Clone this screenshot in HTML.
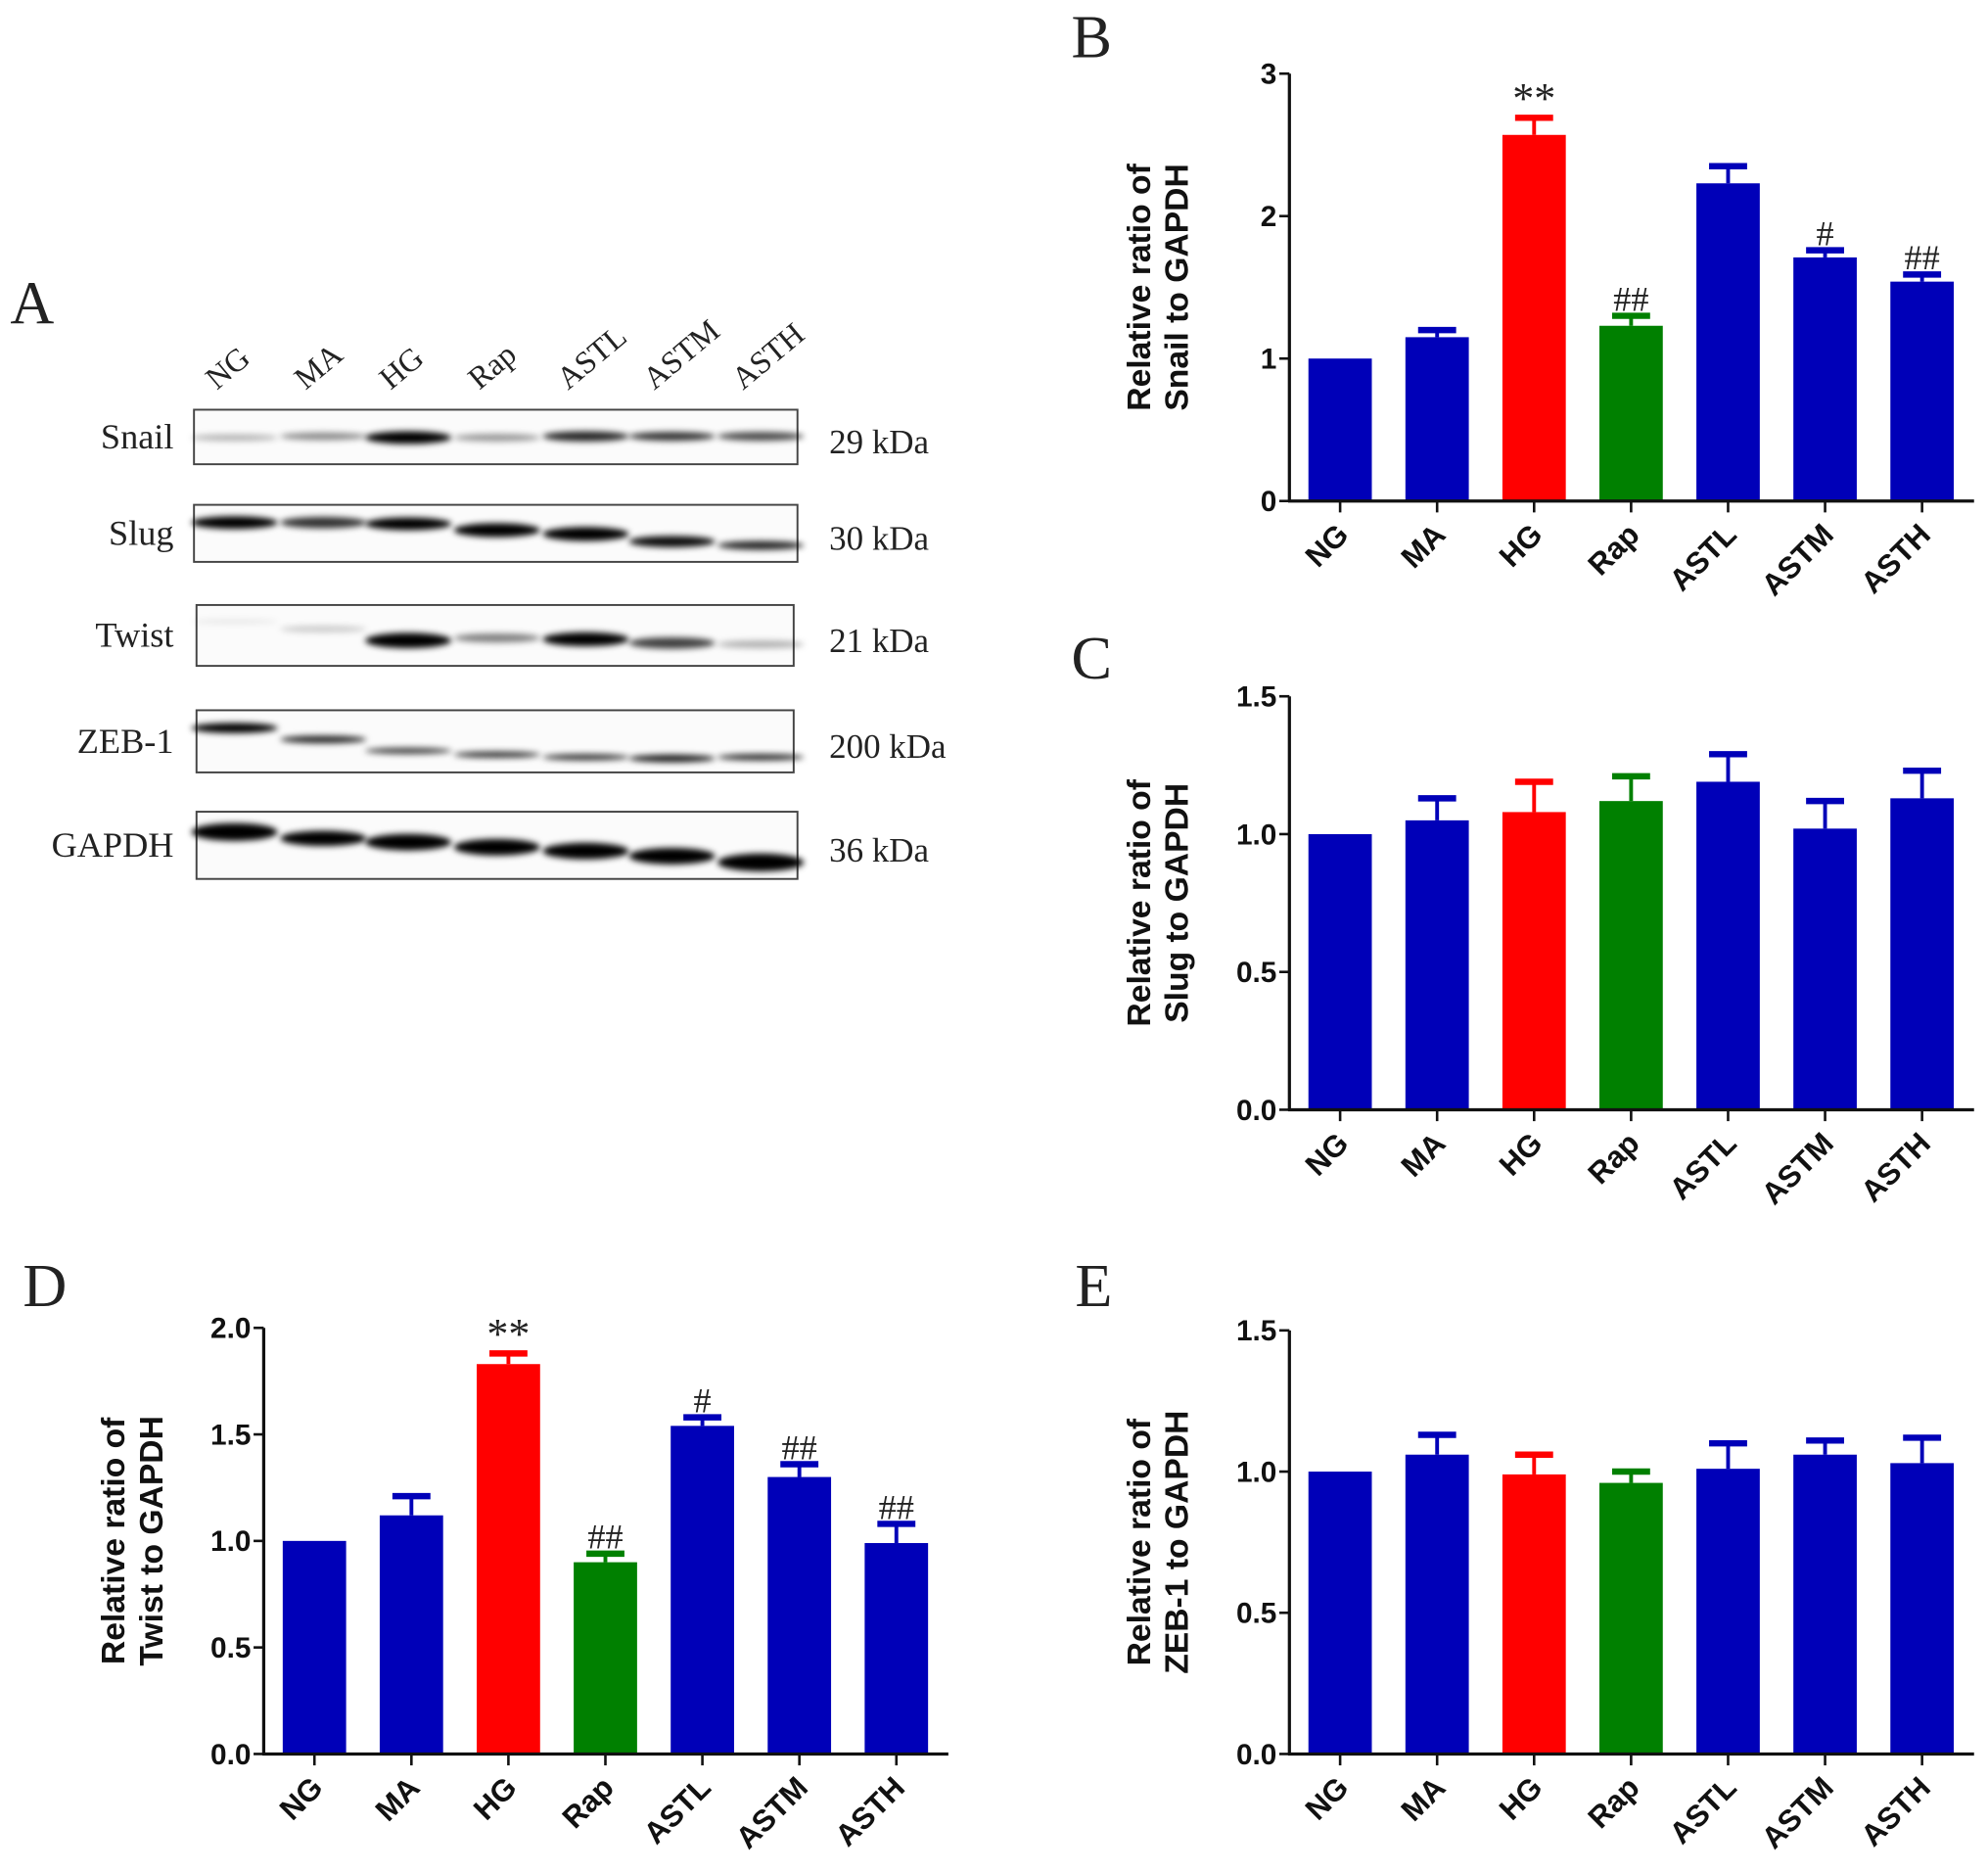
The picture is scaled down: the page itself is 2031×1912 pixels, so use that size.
<!DOCTYPE html>
<html><head><meta charset="utf-8"><style>
html,body{margin:0;padding:0;background:#fff;}
svg{display:block;}
.tk{font-family:"Liberation Sans",Arial,sans-serif;font-weight:bold;font-size:23px;fill:#111;}
.ct{font-family:"Liberation Sans",Arial,sans-serif;font-weight:bold;font-size:24px;fill:#111;}
.at{font-family:"Liberation Sans",Arial,sans-serif;font-weight:bold;font-size:26px;fill:#111;}
.sr{font-family:"Liberation Serif","Times New Roman",serif;fill:#222;}
</style></head><body>
<svg id="fig" width="2031" height="1912" viewBox="0 0 1568 1476" xmlns="http://www.w3.org/2000/svg">
<defs><filter id="blur" x="-20%" y="-100%" width="140%" height="300%"><feGaussianBlur stdDeviation="2.5"/></filter></defs>
<g id="blot"></g>
<g id="charts"></g>
</svg>
<script>
const categories = ["NG","MA","HG","Rap","ASTL","ASTM","ASTH"];
const colors = ["#0000b8","#0000b8","#ff0000","#008000","#0000b8","#0000b8","#0000b8"];
const snailValues = [1.0,1.15,2.57,1.23,2.23,1.71,1.54];
const snailErrors = [0,0.05,0.12,0.07,0.12,0.05,0.05];
const snailMarks = ["","","**","##","","#","##"];
const snailTicks = [0,1,2,3];
const slugValues = [1.0,1.05,1.08,1.12,1.19,1.02,1.13];
const slugErrors = [0,0.08,0.11,0.09,0.10,0.10,0.10];
const twistValues = [1.0,1.12,1.83,0.90,1.54,1.30,0.99];
const twistErrors = [0,0.09,0.05,0.04,0.04,0.06,0.09];
const twistMarks = ["","","**","##","#","##","##"];
const zebValues = [1.0,1.06,0.99,0.96,1.01,1.06,1.03];
const zebErrors = [0,0.07,0.07,0.04,0.09,0.05,0.09];
const tick15 = [0,0.5,1.0,1.5];
const tick20 = [0,0.5,1.0,1.5,2.0];

const NS="http://www.w3.org/2000/svg";
function mk(parent,tag,attrs,text){const e=document.createElementNS(NS,tag);for(const k in attrs)e.setAttribute(k,attrs[k]);if(text!==undefined)e.textContent=text;parent.appendChild(e);return e;}

function chart(cfg){
  const g=mk(document.getElementById('charts'),'g',{});
  
  
  const x0=cfg.x0,xEnd=x0+540,yB=cfg.yB,yT=cfg.yT,max=cfg.ticks[cfg.ticks.length-1];
  const yS=v=>yB-(v/max)*(yB-yT);
  const step=76.5, bw=50;
  const xc=i=>x0+40+i*step;
  const L=mk(g,'text',{x:cfg.lx,y:cfg.ly,class:'sr','font-size':48},cfg.letter);
  
  
  cfg.vals.forEach((v,i)=>{
    const r=mk(g,'rect',{x:xc(i)-bw/2,y:yS(v),width:bw,height:yB-yS(v),fill:colors[i]});
    
    
    const e=cfg.errs[i];
    if(e>0){
      const ye=yS(v+e);
      mk(g,'line',{x1:xc(i),x2:xc(i),y1:yS(v),y2:ye,stroke:colors[i],'stroke-width':3});
      const cap=mk(g,'line',{x1:xc(i)-15,x2:xc(i)+15,y1:ye,y2:ye,stroke:colors[i],'stroke-width':5});
      
      
    }
    if(cfg.marks&&cfg.marks[i]){
      const m=mk(g,'text',{x:xc(i),y:yS(v+e)-4,'text-anchor':'middle',class:'sr','font-size':cfg.marks[i]=="**"?34:28},cfg.marks[i]);
      
      
    }
    mk(g,'line',{x1:xc(i),x2:xc(i),y1:yB,y2:yB+9,stroke:'#111','stroke-width':2});
    const t=mk(g,'text',{x:0,y:0,class:'ct','text-anchor':'end',transform:`translate(${xc(i)+8},${yB+28}) rotate(-45)`},categories[i]);
    
    
  });
  const ya=mk(g,'line',{x1:x0,x2:x0,y1:yT,y2:yB+1,stroke:'#111','stroke-width':2.5});
  
  
  const xa=mk(g,'line',{x1:x0-1,x2:xEnd,y1:yB,y2:yB,stroke:'#111','stroke-width':2.5});
  
  
  cfg.ticks.forEach(tv=>{
    mk(g,'line',{x1:x0-8,x2:x0,y1:yS(tv),y2:yS(tv),stroke:'#111','stroke-width':2});
    const t=mk(g,'text',{x:x0-10,y:yS(tv)+8,class:'tk','text-anchor':'end'},cfg.fmt(tv));
    
    
  });
  const my=(yB+yT)/2;
  const t=mk(g,'text',{class:'at','text-anchor':'middle',transform:`translate(${x0-110},${my}) rotate(-90)`});
  
  
  mk(t,'tspan',{x:0,y:0},'Relative ratio of');
  mk(t,'tspan',{x:0,y:30},cfg.title);
}
const f0=v=>String(v), f1=v=>v.toFixed(1);
chart({name:'snail-chart',letter:'B',lx:845,ly:45,x0:1017,yB:395,yT:58,ticks:snailTicks,fmt:f0,vals:snailValues,errs:snailErrors,marks:snailMarks,title:'Snail to GAPDH'});
chart({name:'slug-chart',letter:'C',lx:845,ly:535,x0:1017,yB:875,yT:549,ticks:tick15,fmt:f1,vals:slugValues,errs:slugErrors,title:'Slug to GAPDH'});
chart({name:'twist-chart',letter:'D',lx:18,ly:1030,x0:208,yB:1383,yT:1047,ticks:tick20,fmt:f1,vals:twistValues,errs:twistErrors,marks:twistMarks,title:'Twist to GAPDH'});
chart({name:'zeb1-chart',letter:'E',lx:848,ly:1030,x0:1017,yB:1383,yT:1049,ticks:tick15,fmt:f1,vals:zebValues,errs:zebErrors,title:'ZEB-1 to GAPDH'});

const blot=document.getElementById('blot');
mk(blot,'text',{x:8,y:255,class:'sr','font-size':48},'A');
const laneX=[185,255,322,392,462,530,600];
categories.forEach((c,i)=>{
  const t=mk(blot,'text',{class:'sr','font-size':25,transform:`translate(${laneX[i]-14},${308}) rotate(-40)`},c);
  
  
});
const rows=[
 {n:'Snail',k:'29  kDa',x1:153,x2:629,y1:323,y2:366,by:[345,344,345,345,344,344,344],bi:[0.3,0.45,1,0.4,0.85,0.8,0.7],bh:[5,6,10,6,8,7,7]},
 {n:'Slug',k:'30  kDa',x1:153,x2:629,y1:398,y2:443,by:[412,412,413,418,421,427,430],bi:[1,0.8,1,1,1,0.95,0.85],bh:[10,9,10,11,11,9,7]},
 {n:'Twist',k:'21  kDa',x1:155,x2:626,y1:477,y2:525,by:[490,496,505,503,504,507,508],bi:[0.08,0.2,1,0.5,1,0.75,0.3],bh:[4,5,12,7,11,9,6]},
 {n:'ZEB-1',k:'200  kDa',x1:155,x2:626,y1:560,y2:609,by:[574,583,592,595,597,598,597],bi:[1,0.85,0.75,0.8,0.8,0.9,0.85],bh:[8,6,5,5,5,6,5]},
 {n:'GAPDH',k:'36  kDa',x1:155,x2:629,y1:640,y2:693,by:[656,661,664,668,671,675,680],bi:[1,1,1,1,1,1,1],bh:[14,12,13,13,13,13,14]}
];
rows.forEach(r=>{
  const g=mk(blot,'g',{});
  
  
  mk(g,'rect',{x:r.x1,y:r.y1,width:r.x2-r.x1,height:r.y2-r.y1,fill:'#fbfbfb',stroke:'#444','stroke-width':1.5});
  laneX.forEach((lx,i)=>{
    mk(g,'ellipse',{cx:lx,cy:r.by[i],rx:34,ry:r.bh[i]/2,fill:'#000','fill-opacity':r.bi[i],filter:'url(#blur)'});
  });
  mk(g,'text',{x:137,y:(r.y1+r.y2)/2+9,class:'sr','font-size':28,'text-anchor':'end'},r.n);
  mk(g,'text',{x:654,y:(r.y1+r.y2)/2+13,class:'sr','font-size':27},r.k);
});
</script>
</body></html>
